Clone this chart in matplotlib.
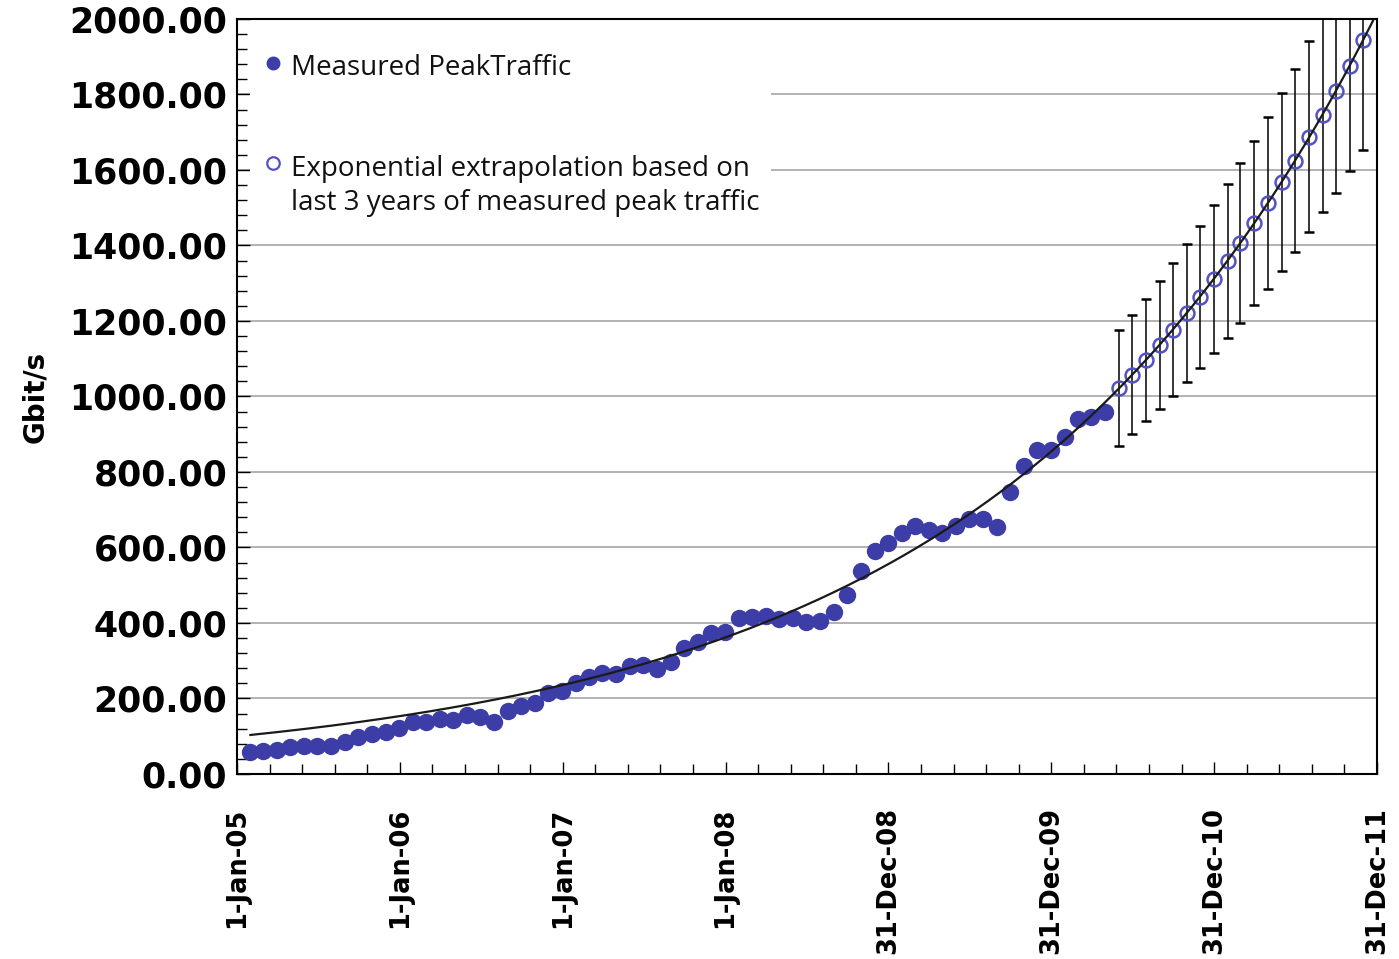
import numpy as np
import pandas as pd
import matplotlib
matplotlib.use("Agg")
import matplotlib.pyplot as plt
from matplotlib.patches import Rectangle


# monthly peak traffic, Gbit/s (Jan 2005 - Apr 2010)
measured = [
    57, 60, 64, 71, 73, 75, 73, 84, 97, 106, 112, 121,
    137, 139, 146, 144, 155, 150, 137, 168, 181, 188, 214, 220,
    240, 256, 267, 265, 287, 289, 278, 298, 334, 349, 374, 377,
    412, 415, 419, 411, 412, 402, 404, 428, 474, 539, 592, 612,
    638, 658, 647, 638, 656, 675, 675, 653, 747, 817, 857, 859,
    892, 940, 947, 960,
]

# extrapolated values (May 2010 - Nov 2011) and their error bars
extrapolated = [
    1022, 1058, 1097, 1137, 1177, 1221, 1264, 1311, 1360, 1407,
    1460, 1513, 1569, 1625, 1688, 1746, 1810, 1876, 1944,
]
extrap_err = [
    153, 158, 162, 170, 176, 183, 188, 197, 204, 212,
    218, 228, 236, 243, 253, 258, 271, 278, 290,
]

x_tick_labels = [
    "1-Jan-05", "1-Jan-06", "1-Jan-07", "1-Jan-08",
    "31-Dec-08", "31-Dec-09", "31-Dec-10", "31-Dec-11",
]
y_ticks = np.arange(0, 2001, 200)

label_measured = "Measured PeakTraffic"
label_extrap = ["Exponential extrapolation based on",
                "last 3 years of measured peak traffic"]


start = pd.Timestamp("2005-01-01")
n = len(measured) + len(extrapolated)
month_ends = pd.date_range("2005-02-01", periods=n, freq="MS") - pd.Timedelta(days=1)
days = np.asarray((month_ends - start).days, dtype=float)
x_meas = days[:len(measured)]
x_ext = days[len(measured):]

# exponential trend line through the extrapolated points
b, a = np.polyfit(x_ext, np.log(extrapolated), 1)
x_fit = np.linspace(x_meas[0], 2560, 400)
y_fit = np.exp(a + b * x_fit)

blue = "#3d3da8"
blue_open = "#5252c2"

fig = plt.figure(figsize=(13.99, 9.59), dpi=100)
ax = fig.add_axes([0.16941, 0.19291, 0.81487, 0.78728])

ax.plot(x_meas, measured, "o", color=blue, ms=11.5, zorder=3)

ax.errorbar(
    x_ext, extrapolated, yerr=extrap_err,
    fmt="o", mfc="none", mec=blue_open, ms=10, mew=1.8,
    ecolor="black", elinewidth=1.1, capsize=3.8, capthick=1.1,
    zorder=3
)

ax.plot(x_fit, y_fit, color="#1a1a1a", lw=1.6, zorder=4)

ax.set_xlim(0, 2555)
ax.set_ylim(0, 2000)

ax.set_xticks(np.arange(0, 2556, 365))
ax.set_xticks(np.arange(0, 2556, 73), minor=True)
ax.set_xticklabels(x_tick_labels, rotation=90, fontweight="bold", fontsize=18.5)

ax.set_yticks(y_ticks)
ax.set_yticks(np.arange(0, 2001, 40), minor=True)
ax.set_yticklabels([f"{v:.2f}" for v in y_ticks], fontweight="bold", fontsize=25)

ax.tick_params(which="both", direction="in", width=1, color="black")
ax.tick_params(which="major", length=9)
ax.tick_params(which="minor", length=7)
ax.tick_params(axis="x", pad=24)
ax.tick_params(axis="y", pad=7)

ax.yaxis.grid(True, color="#a6a6a6", lw=1.2)
ax.set_axisbelow(True)

for s in ax.spines.values():
    s.set_color("black")
    s.set_linewidth(1.5)

ax.set_ylabel("Gbit/s", fontweight="bold", fontsize=20)
ax.yaxis.set_label_coords(-0.165, 0.5)

# legend box
ax.add_patch(Rectangle((0.0114, 0.74), 0.457, 0.256, transform=ax.transAxes,
                       facecolor="white", edgecolor="none", zorder=1))
ax.plot([0.0316], [0.9417], "o", color=blue, ms=9, transform=ax.transAxes,
        clip_on=False, zorder=5)
ax.plot([0.0316], [0.8093], "o", mfc="none", mec=blue_open, ms=9, mew=1.6,
        transform=ax.transAxes, clip_on=False, zorder=5)

legend_font = dict(family="Open Sans", size=20, color="#111111")
ax.text(0.0474, 0.9258, label_measured, transform=ax.transAxes,
        va="baseline", ha="left", zorder=5, **legend_font)
ax.text(0.0474, 0.7921, label_extrap[0], transform=ax.transAxes,
        va="baseline", ha="left", zorder=5, **legend_font)
ax.text(0.0474, 0.7470, label_extrap[1], transform=ax.transAxes,
        va="baseline", ha="left", zorder=5, **legend_font)

plt.savefig("out.png", dpi=100)
plt.close()
